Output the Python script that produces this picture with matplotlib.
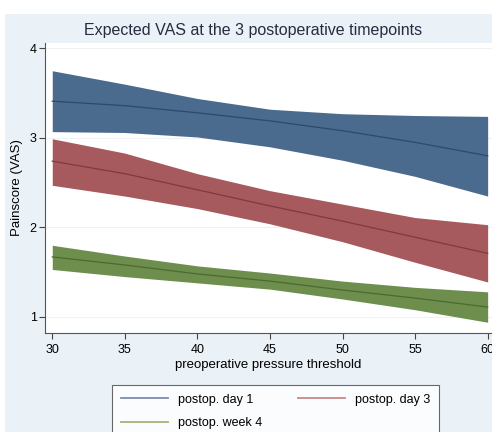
import matplotlib
matplotlib.use("Agg")
import matplotlib.pyplot as plt
from matplotlib.patches import Rectangle
from matplotlib.lines import Line2D

plt.rcParams["font.family"] = ["Liberation Sans", "DejaVu Sans"]

threshold = [30, 35, 40, 45, 50, 55, 60]

day1_mean = [3.41, 3.36, 3.28, 3.19, 3.08, 2.95, 2.80]
day1_low = [3.07, 3.06, 3.01, 2.90, 2.75, 2.57, 2.35]
day1_high = [3.75, 3.60, 3.44, 3.32, 3.27, 3.25, 3.24]

day3_mean = [2.74, 2.60, 2.42, 2.24, 2.07, 1.89, 1.71]
day3_low = [2.47, 2.35, 2.21, 2.04, 1.84, 1.61, 1.39]
day3_high = [2.99, 2.83, 2.60, 2.41, 2.26, 2.11, 2.03]

week4_mean = [1.67, 1.58, 1.48, 1.40, 1.30, 1.21, 1.11]
week4_low = [1.53, 1.45, 1.38, 1.31, 1.20, 1.08, 0.94]
week4_high = [1.80, 1.68, 1.57, 1.49, 1.40, 1.33, 1.28]

labels = ["postop. day 1", "postop. day 3", "postop. week 4"]
x_ticks = [30, 35, 40, 45, 50, 55, 60]
y_ticks = [1, 2, 3, 4]

W, H = 492, 432
fig = plt.figure(figsize=(W / 100, H / 100), dpi=100)
fig.patch.set_facecolor("white")
fig.add_artist(Rectangle((5 / W, 0), 1 - 5 / W, 1 - 14 / H, transform=fig.transFigure,
                         facecolor="#eaf2f8", edgecolor="none", zorder=0))

ax = fig.add_axes([45 / W, 1 - 333 / H, (492 - 45) / W, (333 - 43) / H])
ax.set_facecolor("white")

series = [
    (day1_mean, day1_low, day1_high, "#4a6a8e", "#2c4a6e", "#7c8cb0"),
    (day3_mean, day3_low, day3_high, "#a65a5e", "#7e3a40", "#c88888"),
    (week4_mean, week4_low, week4_high, "#6e8e4e", "#4a6a30", "#a4b474"),
]
handles = []
for (m, lo, hi, fc, lc, legc), lab in zip(series, labels):
    ax.fill_between(threshold, lo, hi, color=fc, linewidth=0, zorder=2)
    ax.plot(threshold, m, color=lc, linewidth=0.9, zorder=3)
    handles.append(Line2D([], [], color=legc, linewidth=1.3, label=lab))

ax.set_xlim(29.5, 60.3)
ax.set_ylim(0.82, 4.06)
ax.set_xticks(x_ticks)
ax.set_yticks(y_ticks)
ax.tick_params(labelsize=9, length=4, color="#444444", pad=2)
ax.tick_params(axis="x", pad=4)
for g in y_ticks:
    ax.axhline(g, color="#eef2f4", linewidth=0.8, zorder=1)
for s in ["top", "right"]:
    ax.spines[s].set_visible(False)
for s in ["left", "bottom"]:
    ax.spines[s].set_color("#555555")
    ax.spines[s].set_linewidth(0.8)

ax.set_xlabel("preoperative pressure threshold", fontsize=9.5, labelpad=2)
ax.set_ylabel("Painscore (VAS)", fontsize=9.5, labelpad=5)
fig.text(253 / W, 1 - 30 / H, "Expected VAS at the 3 postoperative timepoints",
         ha="center", va="center", fontsize=11.5, color="#2a2a40")

order = [handles[0], handles[2], handles[1]]
leg = fig.legend(handles=order, loc="upper left", bbox_to_anchor=(112 / W, 1 - 385 / H),
                 ncol=2, fontsize=9, frameon=True, fancybox=False, edgecolor="#444444",
                 handlelength=3.8, handletextpad=0.8, columnspacing=2.8, borderpad=0.7,
                 labelspacing=0.9, borderaxespad=0)
leg.get_frame().set_linewidth(0.8)

fig.savefig("out.png", dpi=100)
